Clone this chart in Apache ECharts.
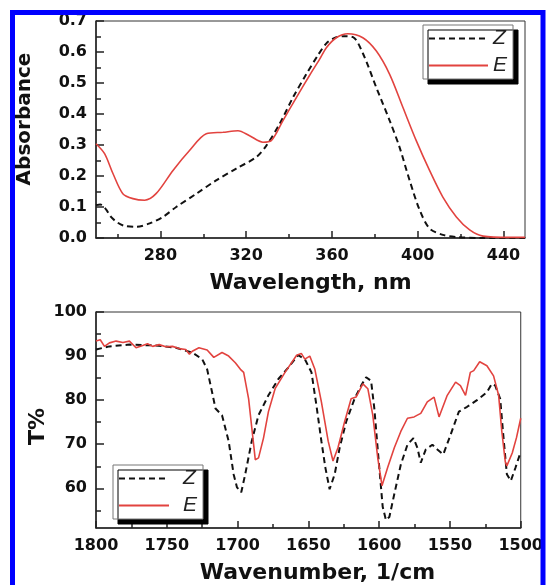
<!DOCTYPE html>
<html>
<head>
<meta charset="utf-8">
<script src="https://cdn.jsdelivr.net/npm/echarts@6/dist/echarts.min.js"></script>
<style>
  html, body { margin: 0; padding: 0; background: #fff; }
  #chart { width: 546px; height: 585px; }
</style>
</head>
<body>
<div id="chart"></div>
<script>
// UV-Vis absorbance: [wavelength nm, absorbance]
const uvZ = [
  [250, 0.106], [252, 0.108], [254.5, 0.094], [257, 0.068], [260, 0.05], [263, 0.04],
  [268.8, 0.036], [275, 0.047], [281.2, 0.068], [287.4, 0.1], [296.8, 0.143],
  [306, 0.186], [315.4, 0.224], [324.7, 0.261], [329.4, 0.298], [335.6, 0.368],
  [341.8, 0.453], [348, 0.528], [353.5, 0.59], [357.4, 0.628], [361, 0.645],
  [365, 0.651], [369.8, 0.648], [374.4, 0.596], [380.7, 0.485], [386.9, 0.379],
  [391.5, 0.293], [396.2, 0.186], [400.9, 0.09], [405.5, 0.031], [411.7, 0.01],
  [418, 0.003], [430, 0.0], [450, 0.0]
]
const uvE = [
  [250, 0.304], [254, 0.272], [257.9, 0.208], [262.5, 0.143], [267.2, 0.127],
  [272.7, 0.122], [278, 0.143], [285.9, 0.218], [293.6, 0.282], [301.4, 0.336],
  [309.2, 0.341], [316.2, 0.346], [321.6, 0.33], [327.8, 0.309], [331.7, 0.314],
  [337.1, 0.378], [343.4, 0.453], [349.6, 0.525], [354.2, 0.576], [357.4, 0.614],
  [362, 0.646], [367.4, 0.659], [374.4, 0.646], [380.7, 0.603], [386.9, 0.528],
  [393.1, 0.421], [399.3, 0.314], [405.5, 0.218], [411.7, 0.132], [418, 0.068],
  [424.2, 0.026], [430.4, 0.006], [442.8, 0.002], [450, 0.002]
]

// IR transmittance: [wavenumber 1/cm, T%]
const irZ = [
  [1800, 91.5], [1790.5, 92.2], [1776.4, 92.6], [1757.7, 92.4], [1743.6, 91.9],
  [1732, 90.8], [1725, 89.3], [1721.5, 87.0], [1718, 81.8], [1715.6, 78.1],
  [1711, 76.6], [1706.3, 70.7], [1702.8, 63.2], [1700.4, 60.2], [1697.4, 59.1],
  [1694.6, 63.2], [1690, 70.7], [1685.2, 76.6], [1678.2, 81.1], [1671.2, 84.8],
  [1664.2, 87.4], [1657.2, 90.2], [1652.5, 89.3], [1647.8, 86.3], [1644.3, 78.8],
  [1640.8, 70.7], [1638, 64.7], [1635, 59.8], [1631.4, 63.2], [1627.9, 69.2],
  [1623.3, 75.1], [1617.4, 80.3], [1612.7, 83.3], [1609.2, 85.2], [1605.7, 84.4],
  [1603.4, 78.1], [1600.5, 66.9], [1597.5, 55.8], [1595.2, 52.8], [1592.8, 53.5],
  [1589.3, 58.7], [1584.7, 65.4], [1580, 69.9], [1575.8, 71.4], [1573, 69.2],
  [1570.6, 65.8], [1567.1, 68.8], [1562.4, 69.9], [1558.9, 68.8], [1554.7, 67.7],
  [1549.6, 72.1], [1543.7, 77.4], [1537.9, 78.5], [1530.9, 80.0], [1523.9, 81.8],
  [1520.4, 83.7], [1518, 83.3], [1514.5, 80.3], [1512.2, 71.6], [1509.8, 63.2],
  [1507, 61.7], [1503.8, 64.6], [1500, 68.3]
]
const irE = [
  [1800, 93.4], [1797, 93.7], [1794, 92.2], [1790.5, 93.0], [1785.8, 93.4],
  [1781, 93.1], [1776.4, 93.4], [1771.7, 91.9], [1767, 92.4], [1763.6, 92.8],
  [1760, 92.2], [1755.4, 92.6], [1750.7, 92.1], [1746, 92.2], [1741.3, 91.7],
  [1736.6, 91.5], [1734, 90.4], [1732, 91.1], [1727.3, 91.9], [1721.5, 91.4],
  [1716.8, 89.7], [1711, 90.8], [1706.3, 90.0], [1701.6, 88.5], [1698, 87.0],
  [1695.7, 86.3], [1692.2, 80.3], [1689.4, 72.1], [1687.5, 66.5], [1685.2, 66.9],
  [1681.7, 71.4], [1678.2, 77.4], [1673.5, 82.6], [1666.5, 86.3], [1658.3, 90.2],
  [1655, 90.6], [1652.5, 89.3], [1649, 90.0], [1645.4, 87.0], [1640.8, 79.6],
  [1636, 70.7], [1632.6, 66.2], [1629.1, 69.2], [1624.4, 75.1], [1619.8, 80.3],
  [1616.3, 80.7], [1611.5, 83.7], [1608, 82.6], [1604.5, 76.6], [1601, 66.9],
  [1598, 60.6], [1594, 64.7], [1589.3, 69.2], [1584.7, 72.9], [1580, 75.9],
  [1575.3, 76.2], [1573, 76.6], [1570.6, 77.0], [1566, 79.6], [1561.2, 80.7],
  [1557.7, 76.2], [1551.9, 81.1], [1546, 84.1], [1542.6, 83.3], [1539, 81.1],
  [1535.6, 86.3], [1533.2, 86.7], [1529, 88.7], [1523.9, 87.8], [1519.2, 85.5],
  [1515.6, 81.1], [1513.4, 73], [1510.9, 66], [1509.8, 65.1], [1506, 68],
  [1503, 71.5], [1500, 75.9]
]

// tick / label positions
const uvLabelTicks = [280, 320, 360, 400, 440]
const uvMinorTicks = [260, 300, 340, 380, 420]
const irYLabels = [60, 70, 80, 90, 100]
const irYMinor = [55, 65, 75, 85, 95]

const axisColor = '#222'
const labelFont = { fontFamily: 'DejaVu Sans', fontWeight: 'bold', fontSize: 16, color: '#111' }
const nameFont = { fontFamily: 'DejaVu Sans', fontWeight: 'bold', fontSize: 22, color: '#111' }
const legendText = { fontFamily: 'Liberation Sans', fontStyle: 'italic', fontSize: 21, color: '#222' }

const lineZ = { color: '#111', width: 2, type: [6, 4] }
const lineE = { color: '#e2433f', width: 1.6 }

const chart = echarts.init(document.getElementById('chart'))

// legend box with a hard black drop shadow
const legendBase = {
  data: ['Z', 'E'], orient: 'vertical',
  itemHeight: 14, itemGap: 6, padding: [3, 6, 3, 5],
  backgroundColor: '#fff', borderColor: '#777', borderWidth: 1,
  shadowColor: '#000', shadowBlur: 0, shadowOffsetX: 5, shadowOffsetY: 5,
  itemStyle: { opacity: 0, borderWidth: 0 }
}

const option = {
  animation: false,
  backgroundColor: '#fff',
  grid: [
    { left: 96, right: 21, top: 21, height: 217, show: true, borderColor: '#333', borderWidth: 1 },
    { left: 96, right: 21, top: 312, height: 219, show: true, borderColor: '#333', borderWidth: 1 }
  ],
  legend: [
    Object.assign({}, legendBase, { left: 423, top: 25, itemWidth: 59, textStyle: legendText }),
    Object.assign({}, legendBase, {
      left: 113, top: 465, itemWidth: 50,
      textStyle: Object.assign({}, legendText, { padding: [0, 0, 0, 9] })
    })
  ],
  xAxis: [
    {
      gridIndex: 0, type: 'value', min: 250, max: 450,
      name: 'Wavelength, nm', nameLocation: 'middle', nameGap: 34, nameTextStyle: nameFont,
      axisLine: { lineStyle: { color: axisColor, width: 1.5 } },
      axisTick: { inside: true, length: 7, customValues: uvLabelTicks, lineStyle: { color: axisColor, width: 1.5 } },
      axisLabel: Object.assign({ customValues: uvLabelTicks, margin: 10 }, labelFont),
      splitLine: { show: false }
    },
    {
      gridIndex: 0, type: 'value', min: 250, max: 450, position: 'bottom',
      axisLine: { show: false },
      axisTick: { inside: true, length: 4, customValues: uvMinorTicks, lineStyle: { color: axisColor, width: 1.5 } },
      axisLabel: { show: false },
      splitLine: { show: false }
    },
    {
      gridIndex: 1, type: 'value', min: 1500, max: 1800, interval: 50, inverse: true,
      name: 'Wavenumber, 1/cm', nameLocation: 'middle', nameGap: 34,
      nameTextStyle: Object.assign({}, nameFont, { padding: [0, 0, 0, 18] }),
      axisLine: { lineStyle: { color: axisColor, width: 1.5 } },
      axisTick: { inside: true, length: 7, lineStyle: { color: axisColor, width: 1.5 } },
      minorTick: { show: true, splitNumber: 2, length: 4, lineStyle: { color: axisColor, width: 1.5 } },
      axisLabel: Object.assign({ margin: 10, showMaxLabel: true, showMinLabel: true, formatter: v => String(v) }, labelFont),
      splitLine: { show: false }
    }
  ],
  yAxis: [
    {
      gridIndex: 0, type: 'value', min: 0, max: 0.7, interval: 0.1,
      name: 'Absorbance', nameLocation: 'middle', nameGap: 61, nameMoveOverlap: false,
      nameTextStyle: Object.assign({}, nameFont, { fontSize: 20, padding: [0, 0, 0, 21] }),
      axisLine: { lineStyle: { color: axisColor, width: 1.5 } },
      axisTick: { inside: true, length: 8, lineStyle: { color: axisColor, width: 1.5 } },
      minorTick: { show: true, splitNumber: 2, length: 5, lineStyle: { color: axisColor, width: 1.5 } },
      axisLabel: Object.assign({ margin: 9, formatter: v => v.toFixed(1) }, labelFont),
      splitLine: { show: false }
    },
    {
      gridIndex: 1, type: 'value', min: 51, max: 100,
      name: 'T%', nameLocation: 'middle', nameGap: 47, nameMoveOverlap: false,
      nameTextStyle: Object.assign({}, nameFont, { padding: [0, 13, 0, 0] }),
      axisLine: { lineStyle: { color: axisColor, width: 1.5 } },
      axisTick: { inside: true, length: 8, customValues: irYLabels, lineStyle: { color: axisColor, width: 1.5 } },
      axisLabel: Object.assign({ margin: 9, customValues: irYLabels }, labelFont),
      splitLine: { show: false }
    },
    {
      gridIndex: 1, type: 'value', min: 51, max: 100, position: 'left',
      axisLine: { show: false },
      axisTick: { inside: true, length: 5, customValues: irYMinor, lineStyle: { color: axisColor, width: 1.5 } },
      axisLabel: { show: false },
      splitLine: { show: false }
    }
  ],
  series: [
    { name: 'Z', type: 'line', xAxisIndex: 0, yAxisIndex: 0, data: uvZ, symbol: 'none', smooth: 0.3, lineStyle: lineZ, itemStyle: { color: '#111' }, z: 3 },
    { name: 'E', type: 'line', xAxisIndex: 0, yAxisIndex: 0, data: uvE, symbol: 'none', smooth: 0.3, lineStyle: lineE, itemStyle: { color: '#e2433f' }, z: 4 },
    { name: 'Z', type: 'line', xAxisIndex: 2, yAxisIndex: 1, data: irZ, symbol: 'none', lineStyle: lineZ, itemStyle: { color: '#111' }, z: 3 },
    { name: 'E', type: 'line', xAxisIndex: 2, yAxisIndex: 1, data: irE, symbol: 'none', lineStyle: lineE, itemStyle: { color: '#e2433f' }, z: 4 }
  ],
  graphic: [
    // blue page frame (open at the bottom)
    {
      type: 'rect', z: 100, silent: true,
      shape: { x: 12.5, y: 12.5, width: 530.5, height: 700 },
      style: { fill: null, stroke: '#0000ff', lineWidth: 5 }
    }
  ]
}

chart.setOption(option)
</script>
</body>
</html>
